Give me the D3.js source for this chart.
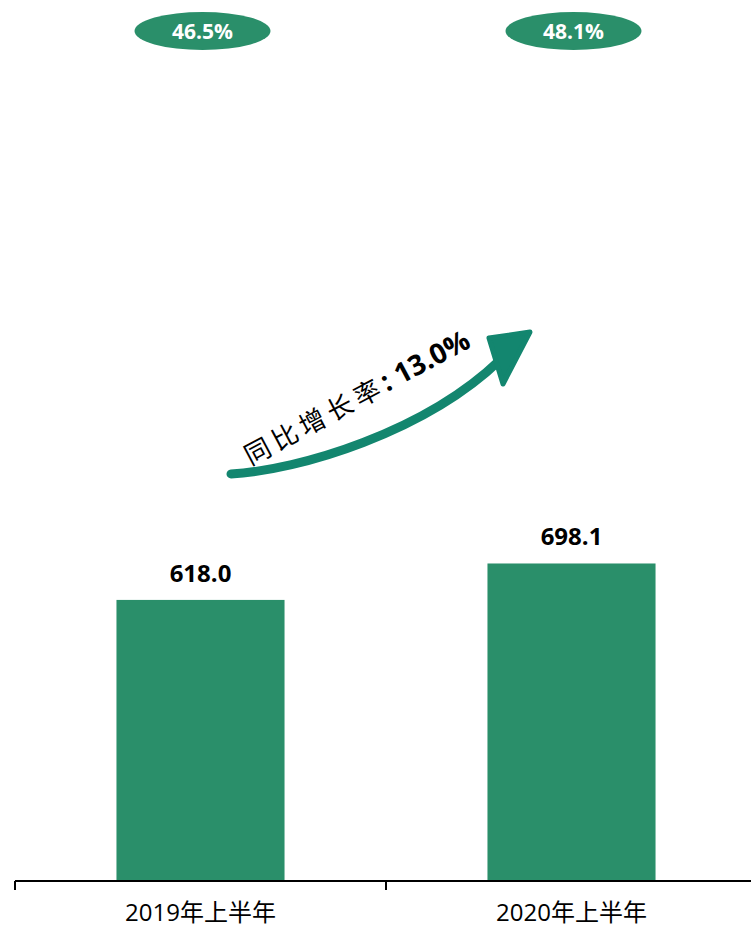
<!DOCTYPE html>
<html>
<head>
<meta charset="utf-8">
<script src="https://cdn.jsdelivr.net/npm/d3@7/dist/d3.min.js"></script>
<style>
  html, body { margin: 0; padding: 0; background: #ffffff; }
  svg { display: block; }
</style>
</head>
<body>
<svg id="chart" width="751" height="929"></svg>
<script>
const categories = ["2019年上半年", "2020年上半年"];
const values = [618.0, 698.1];
const valueLabels = ["618.0", "698.1"];
const shares = [46.5, 48.1];
const shareLabels = ["46.5%", "48.1%"];
const growthLabel = "同比增长率";
const growthValue = "13.0%";

const W = 751, H = 929;
const barColor = "#2A8F6A";
const arrowColor = "#13866F";
const latin = "'Open Sans', 'Noto Sans', 'Noto Sans CJK SC', sans-serif";
const cjk = "'Noto Sans CJK SC', 'Open Sans', sans-serif";

const svg = d3.select("#chart");

const x = d3.scaleBand().domain(categories).range([15, 757])
  .paddingInner(0.547).paddingOuter(0.2735);
const xAxisScale = d3.scaleBand().domain(categories).range([15, 757]).padding(0);
const y = d3.scaleLinear().domain([0, 1937]).range([881, 0]);

// bars
svg.selectAll("rect.bar").data(values).enter().append("rect")
  .attr("class", "bar")
  .attr("x", (d, i) => x(categories[i]))
  .attr("y", d => y(d))
  .attr("width", x.bandwidth())
  .attr("height", d => y(0) - y(d))
  .attr("fill", barColor);

// value labels
svg.selectAll("text.val").data(values).enter().append("text")
  .attr("class", "val")
  .attr("x", (d, i) => x(categories[i]) + x.bandwidth() / 2)
  .attr("y", d => y(d) - 18)
  .attr("text-anchor", "middle")
  .attr("font-family", latin)
  .attr("font-weight", "bold")
  .attr("font-size", 24)
  .attr("fill", "#000")
  .text((d, i) => valueLabels[i]);

// axis line
const axisY = y(0);
svg.append("line")
  .attr("x1", 15).attr("x2", W)
  .attr("y1", axisY).attr("y2", axisY)
  .attr("stroke", "#000").attr("stroke-width", 2);

// boundary ticks
const boundaries = categories.map(c => xAxisScale(c)).concat([xAxisScale.range()[1]]);
svg.selectAll("line.tick").data(boundaries).enter().append("line")
  .attr("class", "tick")
  .attr("x1", d => d).attr("x2", d => d)
  .attr("y1", axisY).attr("y2", axisY + 9)
  .attr("stroke", "#000").attr("stroke-width", 2);

// category labels
svg.selectAll("text.cat").data(categories).enter().append("text")
  .attr("class", "cat")
  .attr("x", d => xAxisScale(d) + xAxisScale.bandwidth() / 2)
  .attr("y", 921)
  .attr("text-anchor", "middle")
  .attr("font-family", latin)
  .attr("font-size", 24)
  .attr("fill", "#000")
  .text(d => d);

// share ellipses
const ellY = 31;
const g = svg.selectAll("g.share").data(shares).enter().append("g")
  .attr("class", "share")
  .attr("transform", (d, i) => `translate(${x(categories[i]) + x.bandwidth() / 2 + 2},${ellY})`);
g.append("ellipse").attr("rx", 68).attr("ry", 19).attr("fill", barColor);
g.append("text")
  .attr("text-anchor", "middle")
  .attr("y", 7.5)
  .attr("font-family", latin)
  .attr("font-weight", "bold")
  .attr("font-size", 21)
  .attr("fill", "#fff")
  .text((d, i) => shareLabels[i]);

// growth arrow
const arrowPath = d3.path();
arrowPath.moveTo(231, 474);
arrowPath.bezierCurveTo(300, 470, 425, 432, 500, 360);
svg.append("path")
  .attr("d", arrowPath.toString())
  .attr("fill", "none")
  .attr("stroke", arrowColor)
  .attr("stroke-width", 9)
  .attr("stroke-linecap", "round");
svg.append("path")
  .attr("d", d3.line()([[489, 338], [530, 332], [503, 384]]) + "Z")
  .attr("fill", arrowColor)
  .attr("stroke", arrowColor)
  .attr("stroke-width", 5)
  .attr("stroke-linejoin", "round");

// growth text
const gt = svg.append("text")
  .attr("transform", "translate(356,396) rotate(-28)")
  .attr("text-anchor", "middle")
  .attr("dominant-baseline", "central")
  .attr("fill", "#000");
gt.append("tspan")
  .attr("font-family", cjk)
  .attr("font-size", 26)
  .attr("letter-spacing", 5)
  .text(growthLabel);
gt.append("tspan")
  .attr("font-family", latin)
  .attr("font-weight", "bold")
  .attr("font-size", 28)
  .text(": " + growthValue);
</script>
</body>
</html>
